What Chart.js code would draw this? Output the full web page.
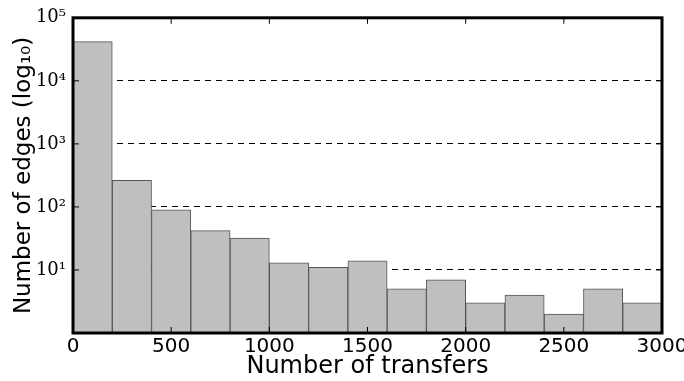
<!DOCTYPE html>
<html>
<head>
<meta charset="utf-8">
<script src="https://cdn.jsdelivr.net/npm/chart.js@4"></script>
<style>
  html, body { margin: 0; padding: 0; background: #fff; }
  #wrap { width: 684px; height: 381px; }
</style>
</head>
<body>
<div id="wrap"><canvas id="histChart" width="684" height="381"></canvas></div>
<script>
// histogram bins (edges) and counts per bin
const binEdges = [0, 200, 400, 600, 800, 1000, 1200, 1400, 1600, 1800, 2000, 2200, 2400, 2600, 2800, 3000];
const edgeCounts = [42000, 265, 90, 42, 32, 13, 11, 14, 5, 7, 3, 4, 2, 5, 3];
const yTickValues = [1, 10, 100, 1000, 10000, 100000];
const supers = ['⁰', '¹', '²', '³', '⁴', '⁵'];

const points = edgeCounts.map((c, i) => ({x: (binEdges[i] + binEdges[i + 1]) / 2, y: c}));

// thick frame + small inward tick marks, matplotlib style
const framePlugin = {
    id: 'frame',
    afterDraw(chart) {
        const {ctx, chartArea: a, scales} = chart;
        ctx.save();
        ctx.strokeStyle = '#000';
        ctx.lineWidth = 1;
        scales.x.ticks.forEach(t => {
            const px = scales.x.getPixelForValue(t.value);
            ctx.beginPath();
            ctx.moveTo(px, a.bottom); ctx.lineTo(px, a.bottom - 6);
            ctx.moveTo(px, a.top); ctx.lineTo(px, a.top + 6);
            ctx.stroke();
        });
        scales.y.ticks.forEach(t => {
            const py = scales.y.getPixelForValue(t.value);
            ctx.beginPath();
            ctx.moveTo(a.left, py); ctx.lineTo(a.left + 6, py);
            ctx.moveTo(a.right, py); ctx.lineTo(a.right - 6, py);
            ctx.stroke();
        });
        ctx.lineWidth = 3;
        ctx.strokeRect(a.left, a.top, a.right - a.left, a.bottom - a.top);
        ctx.restore();
    }
};

new Chart(document.getElementById('histChart'), {
    type: 'bar',
    data: {
        datasets: [{
            data: points,
            backgroundColor: '#bfbfbf',
            borderColor: '#555555',
            borderWidth: 1,
            barPercentage: 1,
            categoryPercentage: 1
        }]
    },
    options: {
        responsive: false,
        animation: false,
        layout: {padding: {left: 0, right: 22, top: 16, bottom: 0}},
        plugins: {legend: {display: false}, tooltip: {enabled: false}},
        scales: {
            x: {
                type: 'linear',
                offset: false,
                min: 0,
                max: 3000,
                grid: {display: false, drawTicks: false},
                border: {display: false},
                ticks: {
                    stepSize: 500,
                    color: '#000',
                    padding: 2,
                    maxRotation: 0,
                    font: {family: 'DejaVu Sans', size: 20},
                    callback: (v) => String(v)
                },
                title: {
                    display: true,
                    text: 'Number of transfers',
                    color: '#000',
                    padding: {top: 0, bottom: 0},
                    font: {family: 'DejaVu Sans', size: 24}
                },
                afterFit(scale) {
                    scale.height = 48;
                    scale.paddingRight = 0;
                    scale.paddingLeft = 0;
                }
            },
            y: {
                type: 'logarithmic',
                min: 1,
                max: 100000,
                afterBuildTicks(scale) {
                    scale.ticks = yTickValues.map(v => ({value: v}));
                },
                grid: {
                    color: '#000',
                    lineWidth: 1,
                    drawTicks: false
                },
                border: {display: false, dash: [6, 5]},
                ticks: {
                    color: '#000',
                    padding: 7,
                    font: {family: 'DejaVu Serif', size: 18},
                    callback: (v) => {
                        const e = Math.round(Math.log10(v));
                        return e === 0 ? '' : '10' + supers[e];
                    }
                },
                title: {
                    display: true,
                    text: 'Number of edges (log₁₀)',
                    color: '#000',
                    padding: {top: 10, bottom: 0},
                    font: {family: 'DejaVu Sans', size: 23}
                },
                afterFit(scale) { scale.width = 73; }
            }
        }
    },
    plugins: [framePlugin]
});
</script>
</body>
</html>
